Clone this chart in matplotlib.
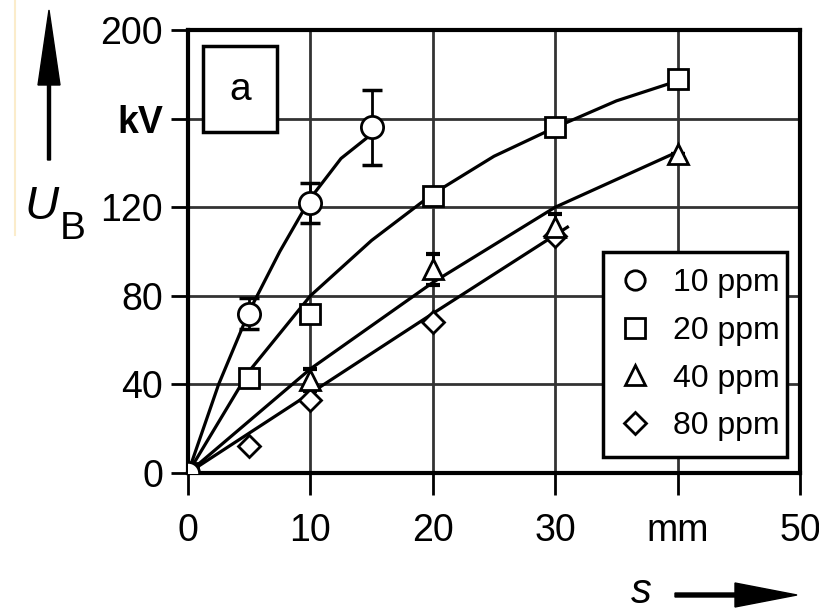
import matplotlib
matplotlib.use("Agg")
import matplotlib.pyplot as plt
from matplotlib.lines import Line2D
from matplotlib.patches import Rectangle, FancyArrow
from matplotlib.transforms import IdentityTransform

plt.rcParams['font.family'] = ['Liberation Sans', 'DejaVu Sans']

# measured points (s in mm, U_B in kV)
s_10 = [0, 5, 10, 15]
u_10 = [0, 72, 122, 156]
err_10 = [0, 7, 9, 17]
s_20 = [0, 5, 10, 20, 30, 40]
u_20 = [0, 43, 72, 125, 156, 178]
s_40 = [0, 10, 20, 30, 40]
u_40 = [0, 42, 92, 111, 144]
err_40 = [0, 5, 7, 6, 0]
s_80 = [0, 5, 10, 20, 30]
u_80 = [0, 12, 33, 68, 107]

# drawn trend curves
curve_10_s = [0, 2.5, 5, 7.5, 10, 12.5, 15]
curve_10_u = [0, 40, 73, 100, 124, 142, 153]
curve_20_s = [0, 5, 10, 15, 20, 25, 30, 35, 40]
curve_20_u = [0, 46, 80, 105, 126, 143, 156, 168, 177]
curve_40_s = [0, 10, 20, 30, 40]
curve_40_u = [0, 47, 86, 120, 145]
curve_80_s = [0, 10, 20, 31]
curve_80_u = [0, 36, 72, 111]

labels = ['10 ppm', '20 ppm', '40 ppm', '80 ppm']
x_ticks = [0, 10, 20, 30, 40, 50]
x_labels = ['0', '10', '20', '30', 'mm', '50']
y_ticks = [0, 40, 80, 120, 160, 200]
y_labels = ['0', '40', '80', '120', 'kV', '200']

W, H = 820, 612
fig = plt.figure(figsize=(W / 100, H / 100), dpi=100)
ax = fig.add_axes([188 / W, 1 - 473 / H, 612 / W, 443 / H])
ax.set_xlim(0, 50)
ax.set_ylim(0, 200)

ax.grid(True, color='#333333', lw=2)
ax.set_axisbelow(True)
for sp in ax.spines.values():
    sp.set_linewidth(3)

ax.set_xticks(x_ticks)
ax.set_xticklabels(x_labels)
ax.set_yticks(y_ticks)
ax.set_yticklabels(y_labels)
ax.tick_params(axis='x', length=16, width=2, pad=13, labelsize=27)
ax.tick_params(axis='y', length=12, width=2, pad=6, labelsize=27)
ax.get_yticklabels()[4].set_fontweight('bold')

lw = 2.3
ax.plot(curve_10_s, curve_10_u, color='black', lw=lw, zorder=3)
ax.plot(curve_20_s, curve_20_u, color='black', lw=lw, zorder=3)
ax.plot(curve_40_s, curve_40_u, color='black', lw=lw, zorder=3)
ax.plot(curve_80_s, curve_80_u, color='black', lw=lw, zorder=3)

ax.errorbar(s_10, u_10, yerr=err_10, fmt='none', ecolor='black',
            elinewidth=2, capsize=7, capthick=2.5, zorder=4)
ax.errorbar(s_40, u_40, yerr=err_40, fmt='none', ecolor='black',
            elinewidth=2, capsize=5, capthick=3, zorder=4)

mk = dict(color='none', markerfacecolor='white', markeredgecolor='black',
          markeredgewidth=2, zorder=5)
ax.plot(s_80, u_80, marker='D', markersize=11, **mk)
ax.plot(s_40, u_40, marker='^', markersize=15, **mk)
ax.plot(s_20, u_20, marker='s', markersize=15, **mk)
ax.plot(s_10, u_10, marker='o', markersize=16, **mk)

handles = [
    Line2D([], [], ls='none', marker='o', markersize=14, markerfacecolor='white',
           markeredgecolor='black', markeredgewidth=2),
    Line2D([], [], ls='none', marker='s', markersize=14, markerfacecolor='white',
           markeredgecolor='black', markeredgewidth=2),
    Line2D([], [], ls='none', marker='^', markersize=14, markerfacecolor='white',
           markeredgecolor='black', markeredgewidth=2),
    Line2D([], [], ls='none', marker='D', markersize=11, markerfacecolor='white',
           markeredgecolor='black', markeredgewidth=2),
]
leg = ax.legend(handles, labels, loc='lower left',
                bbox_to_anchor=(0.678, 0.036, 0.30, 0.506), mode='expand',
                borderaxespad=0, fancybox=False, edgecolor='black', framealpha=1,
                fontsize=23, handlelength=1.0, handletextpad=0.7,
                labelspacing=0.55, borderpad=0.5)
leg.get_frame().set_linewidth(2.5)
leg.set_zorder(6)

# panel tag "a"
ax.add_patch(Rectangle((1.2, 154), 6.1, 39, facecolor='white', edgecolor='black',
                       lw=2.5, zorder=6))
ax.text(4.25, 173, 'a', ha='center', va='center', fontsize=28, zorder=7)

# axis captions with arrows
fig.text(42 / W, 1 - 207 / H, 'U', style='italic', fontsize=34,
         ha='center', va='center')
fig.text(73 / W, 1 - 229 / H, 'B', fontsize=28, ha='center', va='center')
fig.text(641 / W, 1 - 592 / H, 's', style='italic', fontsize=30,
         ha='center', va='center')

fig.add_artist(FancyArrow(49, H - 160, 0, 150, width=3, head_width=22,
                          head_length=75, length_includes_head=True,
                          color='black', transform=IdentityTransform()))
fig.add_artist(FancyArrow(675, H - 595, 122, 0, width=4, head_width=24,
                          head_length=62, length_includes_head=True,
                          color='black', transform=IdentityTransform()))

# faint scanning edge on the left
fig.add_artist(Line2D([15 / W, 15 / W], [1 - 235 / H, 1.0], color='#fbeccb',
                      lw=1.5, transform=fig.transFigure))

fig.savefig('out.png', dpi=100)
